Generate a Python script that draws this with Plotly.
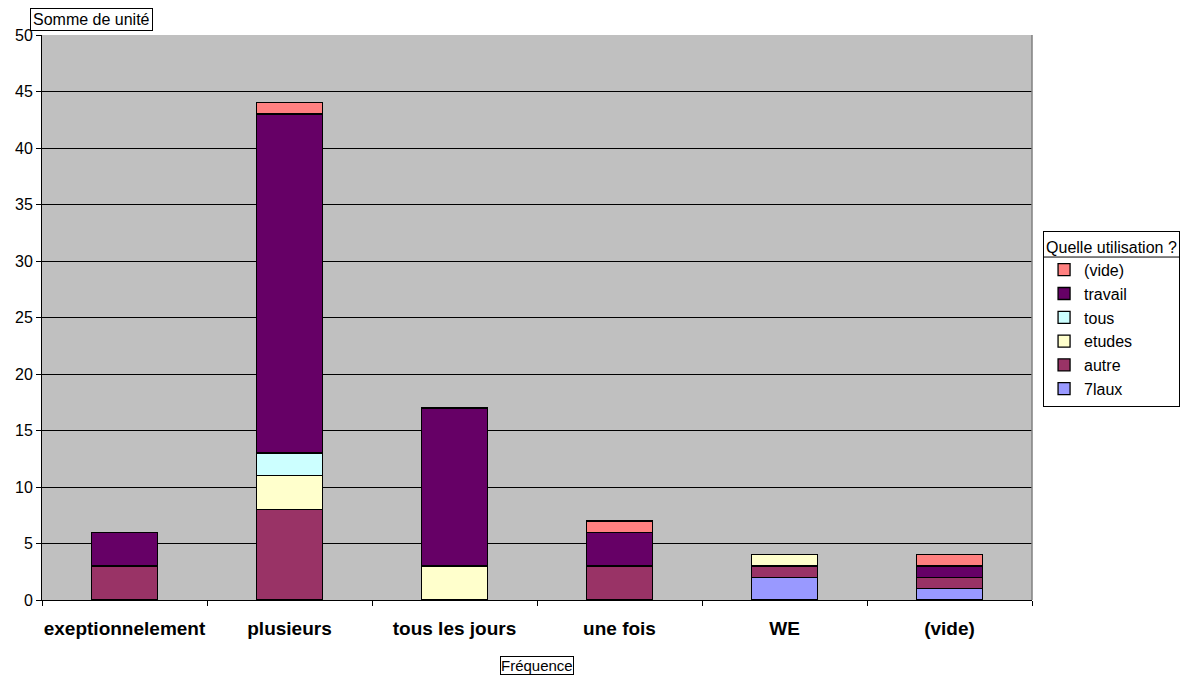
import plotly.graph_objects as go

categories = ["exeptionnelement", "plusieurs", "tous les jours", "une fois", "WE", "(vide)"]
series_names = ["7laux", "autre", "etudes", "tous", "travail", "(vide)"]
v_7laux = [0, 0, 0, 0, 2, 1]
v_autre = [3, 8, 0, 3, 1, 1]
v_etudes = [0, 3, 3, 0, 1, 0]
v_tous = [0, 2, 0, 0, 0, 0]
v_travail = [3, 30, 14, 3, 0, 1]
v_vide = [0, 1, 0, 1, 0, 1]
y_ticks = [0, 5, 10, 15, 20, 25, 30, 35, 40, 45, 50]

series_values = [v_7laux, v_autre, v_etudes, v_tous, v_travail, v_vide]
colors = ["#9999FF", "#993366", "#FFFFCC", "#CCFFFF", "#660066", "#FF8080"]

fig = go.Figure()
for name, vals, col in zip(series_names, series_values, colors):
    fig.add_trace(go.Bar(
        x=categories,
        y=[v if v else None for v in vals],
        name=name,
        marker=dict(color=col, line=dict(color="black", width=1.3)),
        width=0.4,
        hoverinfo="x+y+name",
    ))

font_family = "Liberation Sans, Arial, sans-serif"
W, H = 1175, 668
ML, MR, MT, MB = 34, 151, 27, 76
fig.update_layout(
    barmode="stack",
    width=W, height=H,
    margin=dict(l=ML, r=MR, t=MT, b=MB, pad=0, autoexpand=False),
    paper_bgcolor="white",
    plot_bgcolor="#C0C0C0",
    font=dict(family=font_family, size=15, color="black"),
    showlegend=True,
    legend=dict(
        title=dict(text="Quelle utilisation ?", font=dict(size=16)),
        traceorder="reversed",
        xref="container", yref="container",
        x=0.8809, xanchor="left", y=0.6662, yanchor="top",
        bordercolor="black", borderwidth=1, bgcolor="rgba(255,255,255,0)",
        font=dict(size=16), itemwidth=30, tracegroupgap=0,
    ),
    xaxis=dict(
        type="category",
        automargin=False,
        tickson="boundaries",
        tickangle=0,
        ticks="outside", ticklen=5, tickcolor="black",
        showline=True, linecolor="black", linewidth=1,
        tickfont=dict(size=19, family=font_family, color="black", weight="bold"),
        ticklabelstandoff=11,
        showgrid=False,
    ),
    yaxis=dict(
        automargin=False,
        range=[0, 50],
        tickvals=y_ticks,
        ticks="outside", ticklen=5, tickcolor="black",
        showline=True, linecolor="black", linewidth=1,
        showgrid=True, gridcolor="black", gridwidth=1,
        zeroline=False,
        tickfont=dict(size=16),
    ),
    shapes=[
        dict(type="line", xref="paper", yref="paper", x0=1, x1=1, y0=0, y1=1,
             line=dict(color="#808080", width=1.5)),
        dict(type="line", xref="paper", yref="paper", x0=1.0111, x1=1.1485,
             y0=0.607, y1=0.607, line=dict(color="black", width=1)),
    ],
    annotations=[
        dict(text="Somme de unité", xref="paper", yref="paper", x=-0.012, y=1.0,
             xanchor="left", yanchor="bottom", yshift=4, showarrow=False,
             bordercolor="black", borderwidth=1, borderpad=2, bgcolor="white",
             font=dict(size=16)),
        dict(text="Fréquence", xref="paper", yref="paper", x=0.5, y=0,
             xanchor="center", yanchor="top", yshift=-56, showarrow=False,
             bordercolor="black", borderwidth=1, borderpad=0, bgcolor="white",
             font=dict(size=15)),
    ],
)

fig.write_html("out.html")
